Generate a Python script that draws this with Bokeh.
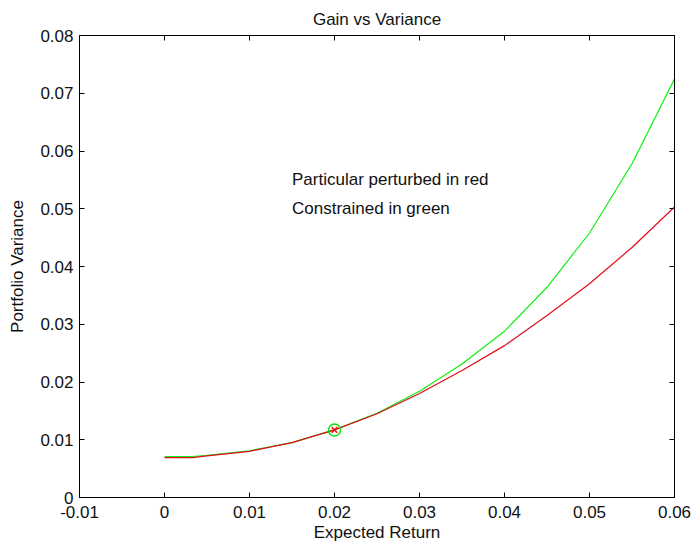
from bokeh.plotting import figure
from bokeh.models import Range1d, FixedTicker, LinearAxis, Label
from bokeh.embed import file_html
from bokeh.resources import INLINE

# ---- data ----
expected_return = [0.0, 0.0033, 0.005, 0.01, 0.015, 0.02, 0.025, 0.03, 0.035, 0.04, 0.045, 0.05, 0.055, 0.06]
perturbed_red = [0.0069, 0.0069, 0.0072, 0.0080, 0.0095, 0.0117, 0.0145, 0.0180, 0.0220, 0.0263, 0.0315, 0.0370, 0.0433, 0.0503]
constrained_green = [0.0071, 0.0071, 0.0073, 0.0081, 0.0095, 0.0117, 0.0146, 0.0184, 0.0231, 0.0288, 0.0364, 0.0458, 0.0578, 0.0725]
marker_x = [0.02]
marker_y = [0.0117]

x_ticks = [-0.01, 0.0, 0.01, 0.02, 0.03, 0.04, 0.05, 0.06]
x_tick_labels = ["-0.01", "0", "0.01", "0.02", "0.03", "0.04", "0.05", "0.06"]
y_ticks = [0.0, 0.01, 0.02, 0.03, 0.04, 0.05, 0.06, 0.07, 0.08]
y_tick_labels = ["0", "0.01", "0.02", "0.03", "0.04", "0.05", "0.06", "0.07", "0.08"]

annot_text = ["Particular perturbed in red", "Constrained in green"]
annot_x = [0.015, 0.015]
annot_y = [0.055, 0.050]

FONT = "Liberation Sans"
FS = "17px"

p = figure(width=692, height=550, output_backend="svg", toolbar_location=None,
           x_range=Range1d(-0.01, 0.06), y_range=Range1d(0, 0.08),
           min_border_left=79, min_border_right=18, min_border_top=34, min_border_bottom=53,
           title="Gain vs Variance")
p.title.align = "center"
p.title.text_font = FONT
p.title.text_font_size = FS
p.title.text_font_style = "normal"
p.title.text_color = "#111111"
p.title.offset = 0
p.title.standoff = 14

p.grid.visible = False
p.outline_line_color = "black"
p.outline_line_width = 1
p.background_fill_color = "white"
p.border_fill_color = "white"

xa = p.xaxis[0]
ya = p.yaxis[0]
xa.ticker = FixedTicker(ticks=x_ticks)
ya.ticker = FixedTicker(ticks=y_ticks)
xa.major_label_overrides = {t: l for t, l in zip(x_ticks, x_tick_labels)}
ya.major_label_overrides = {t: l for t, l in zip(y_ticks, y_tick_labels)}
xa.axis_label = "Expected Return"
ya.axis_label = "Portfolio Variance"
for ax in (xa, ya):
    ax.major_tick_in = 5
    ax.major_tick_out = 0
    ax.minor_tick_in = 0
    ax.minor_tick_out = 0
    ax.axis_line_color = "black"
    ax.major_tick_line_color = "black"
    ax.major_label_text_font = FONT
    ax.major_label_text_font_size = FS
    ax.major_label_text_color = "#111111"
    ax.axis_label_text_font = FONT
    ax.axis_label_text_font_size = FS
    ax.axis_label_text_font_style = "normal"
    ax.axis_label_text_color = "#111111"
xa.major_label_standoff = 8
xa.axis_label_standoff = 2
ya.major_label_standoff = 6
ya.axis_label_standoff = 10

# mirrored ticks on top and right (box style), no labels
top = LinearAxis(ticker=FixedTicker(ticks=x_ticks),
                 major_label_overrides={t: "" for t in x_ticks},
                 major_tick_in=5, major_tick_out=0, minor_tick_in=0, minor_tick_out=0,
                 axis_line_color="black", major_label_standoff=0)
right = LinearAxis(ticker=FixedTicker(ticks=y_ticks),
                   major_label_overrides={t: "" for t in y_ticks},
                   major_tick_in=5, major_tick_out=0, minor_tick_in=0, minor_tick_out=0,
                   axis_line_color="black", major_label_standoff=0)
p.add_layout(top, "above")
p.add_layout(right, "right")

p.line(expected_return, constrained_green, line_color="#11ee11", line_width=1.2)
p.line(expected_return, perturbed_red, line_color="#e00c1a", line_width=1.2)
p.scatter(marker_x, marker_y, marker="circle", size=12, fill_color=None,
          line_color="#11dd11", line_width=1.5)
p.scatter(marker_x, marker_y, marker="x", size=8, line_color="#ee1111", line_width=1.5)

for t, x, y in zip(annot_text, annot_x, annot_y):
    p.add_layout(Label(x=x, y=y, text=t, text_font=FONT, text_font_size=FS,
                       text_baseline="middle", text_align="left", text_color="#111111"))

open("out.html", "w").write(file_html(p, INLINE))
